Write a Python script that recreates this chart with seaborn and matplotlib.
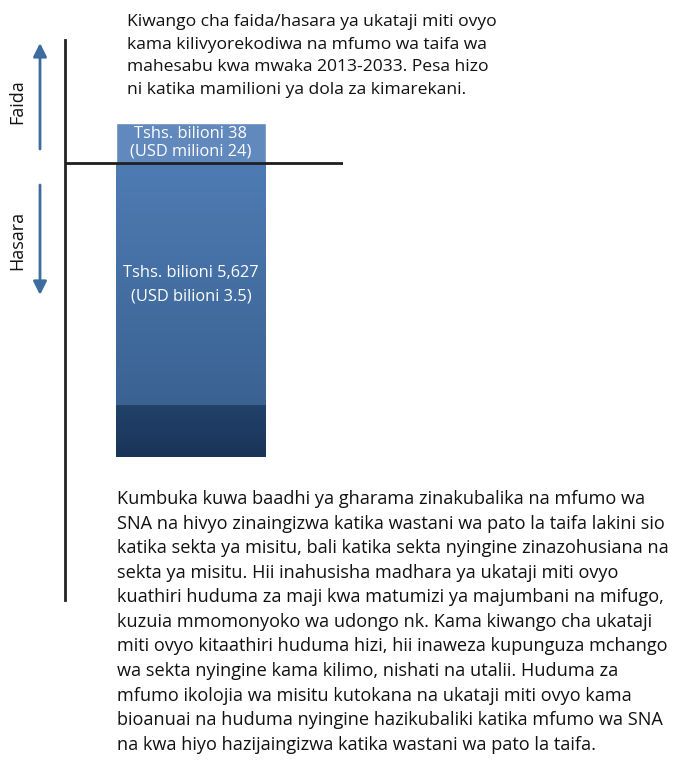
import numpy as np
import pandas as pd
import matplotlib
matplotlib.use("Agg")
import matplotlib.pyplot as plt
import seaborn as sns

# ---- data ----
kipimo = ["Ukataji miti ovyo", "Ukataji miti ovyo"]
aina = ["Faida", "Hasara"]
thamani_tshs_bilioni = [38, -5627]
lebo_bar = ["Tshs. bilioni 38\n(USD milioni 24)", "Tshs. bilioni 5,627\n(USD bilioni 3.5)"]
rangi_bar = ["#6189bd", "#4a76ad"]

kichwa = ("Kiwango cha faida/hasara ya ukataji miti ovyo\n"
          "kama kilivyorekodiwa na mfumo wa taifa wa\n"
          "mahesabu kwa mwaka 2013-2033. Pesa hizo\n"
          "ni katika mamilioni ya dola za kimarekani.")
maelezo = ("Kumbuka kuwa baadhi ya gharama zinakubalika na mfumo wa\n"
           "SNA na hivyo zinaingizwa katika wastani wa pato la taifa lakini sio\n"
           "katika sekta ya misitu, bali katika sekta nyingine zinazohusiana na\n"
           "sekta ya misitu. Hii inahusisha madhara ya ukataji miti ovyo\n"
           "kuathiri huduma za maji kwa matumizi ya majumbani na mifugo,\n"
           "kuzuia mmomonyoko wa udongo nk. Kama kiwango cha ukataji\n"
           "miti ovyo kitaathiri huduma hizi, hii inaweza kupunguza mchango\n"
           "wa sekta nyingine kama kilimo, nishati na utalii. Huduma za\n"
           "mfumo ikolojia wa misitu kutokana na ukataji miti ovyo kama\n"
           "bioanuai na huduma nyingine hazikubaliki katika mfumo wa SNA\n"
           "na kwa hiyo hazijaingizwa katika wastani wa pato la taifa.")

df = pd.DataFrame({"kipimo": kipimo, "aina": aina, "thamani": thamani_tshs_bilioni})

sns.set_theme(style="white")
plt.rcParams["font.family"] = ["Open Sans", "DejaVu Sans"]

W, H = 676, 760
fig = plt.figure(figsize=(W / 100, H / 100), dpi=100)
fig.patch.set_facecolor("white")
ax = fig.add_axes([65 / W, 1 - 600 / H, (343 - 65) / W, (600 - 40) / H])

P = 0.4
def fwd(v):
    v = np.asarray(v, dtype=float)
    return np.sign(v) * np.abs(v) ** P
def inv(u):
    u = np.asarray(u, dtype=float)
    return np.sign(u) * np.abs(u) ** (1 / P)

ax.set_yscale("function", functions=(fwd, inv))

sns.barplot(data=df, x="kipimo", y="thamani", hue="aina", palette=rangi_bar,
            dodge=False, width=0.8, legend=False, errorbar=None, saturation=1,
            ax=ax, zorder=2)

# limits (layout)
k = 294 / float(fwd(5627))
ax.set_ylim(float(inv(-437 / k)), float(inv(123 / k)))
ax.set_xlim(-0.672, 0.811)

for s in ["top", "right", "bottom"]:
    ax.spines[s].set_visible(False)
ax.spines["left"].set_color("#222222")
ax.spines["left"].set_linewidth(2.0)
ax.set_xticks([])
ax.set_yticks([])
ax.yaxis.set_minor_locator(matplotlib.ticker.NullLocator())
ax.set_xlabel("")
ax.set_ylabel("")
ax.set_facecolor("white")
ax.axhline(0, color="#1e1e1e", lw=2.0, zorder=5)

# gradient on the loss bar
neg = [p for p in ax.patches if p.get_height() < 0][0]
x0 = neg.get_x(); x1 = x0 + neg.get_width()
to_ax = ax.transAxes.inverted()
(ax0, ay0) = to_ax.transform(ax.transData.transform((x0, 0)))
(ax1, ay1) = to_ax.transform(ax.transData.transform((x1, neg.get_height())))
n = 300
t = np.linspace(0, 1, n)
top_c = np.array([79, 123, 180]) / 255
mid_c = np.array([58, 99, 146]) / 255
dk1 = np.array([34, 66, 106]) / 255
dk2 = np.array([26, 52, 88]) / 255
step = 0.823
grad = np.zeros((n, 1, 3))
for i, tt in enumerate(t):
    if tt < step:
        f = tt / step
        grad[i, 0] = top_c * (1 - f) + mid_c * f
    else:
        f = (tt - step) / (1 - step)
        grad[i, 0] = dk1 * (1 - f) + dk2 * f
im = ax.imshow(grad, extent=[ax0, ax1, ay1, ay0], origin="upper", transform=ax.transAxes,
               aspect="auto", zorder=3, interpolation="bilinear")
im.set_clip_path(neg)

# bar labels
pos_mid = float(inv(fwd(thamani_tshs_bilioni[0]) / 2))
neg_mid = float(inv(fwd(thamani_tshs_bilioni[1]) * 0.415))
ax.text(0, pos_mid, lebo_bar[0], ha="center", va="center", color="white",
        fontsize=11.8, linespacing=1.15, zorder=4)
ax.text(0, neg_mid, lebo_bar[1], ha="center", va="center", color="white",
        fontsize=11.8, linespacing=1.62, zorder=4)

# arrows & side labels
arrow_c = "#3d6c9f"
ax.annotate("", xy=(40 / W, 1 - 43 / H), xytext=(40 / W, 1 - 149 / H),
            xycoords="figure fraction", textcoords="figure fraction",
            arrowprops=dict(arrowstyle="-|>", color=arrow_c, lw=2, mutation_scale=20,
                            shrinkA=0, shrinkB=0), annotation_clip=False)
ax.annotate("", xy=(40 / W, 1 - 295 / H), xytext=(40 / W, 1 - 185 / H),
            xycoords="figure fraction", textcoords="figure fraction",
            arrowprops=dict(arrowstyle="-|>", color=arrow_c, lw=2, mutation_scale=20,
                            shrinkA=0, shrinkB=0), annotation_clip=False)
fig.text(17 / W, 1 - 102 / H, aina[0], rotation=90, ha="center", va="center",
         fontsize=13, color="#111111")
fig.text(17 / W, 1 - 240 / H, aina[1], rotation=90, ha="center", va="center",
         fontsize=13, color="#111111")

# text blocks
fig.text(127 / W, 1 - 14 / H, kichwa, ha="left", va="top", fontsize=12.6,
         linespacing=1.55, color="#111111")
fig.text(117 / W, 1 - 490 / H, maelezo, ha="left", va="top", fontsize=13.1,
         linespacing=1.47, color="#111111")

fig.savefig("out.png", dpi=100, facecolor="white")
